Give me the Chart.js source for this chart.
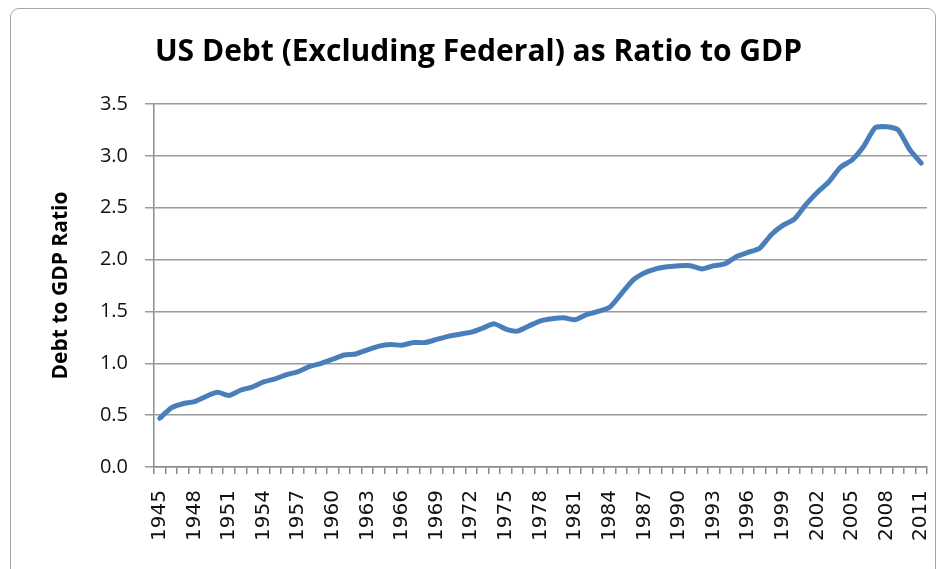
<!DOCTYPE html>
<html>
<head>
<meta charset="utf-8">
<script src="https://cdn.jsdelivr.net/npm/chart.js@4"></script>
<style>
  html, body { margin: 0; padding: 0; background: #fff; overflow: hidden; }
  #wrap { position: relative; width: 941px; height: 569px; }
  #frame {
    position: absolute; left: 10px; top: 8px; width: 924px; height: 620px;
    border: 1.5px solid #a6a6a6; border-radius: 9px; pointer-events: none;
  }
</style>
</head>
<body>
<div id="wrap">
  <canvas id="debt_chart" width="941" height="569"></canvas>
  <div id="frame"></div>
</div>
<script>
// years on the category axis
const years = [1945, 1946, 1947, 1948, 1949, 1950, 1951, 1952, 1953, 1954,
  1955, 1956, 1957, 1958, 1959, 1960, 1961, 1962, 1963, 1964,
  1965, 1966, 1967, 1968, 1969, 1970, 1971, 1972, 1973, 1974,
  1975, 1976, 1977, 1978, 1979, 1980, 1981, 1982, 1983, 1984,
  1985, 1986, 1987, 1988, 1989, 1990, 1991, 1992, 1993, 1994,
  1995, 1996, 1997, 1998, 1999, 2000, 2001, 2002, 2003, 2004,
  2005, 2006, 2007, 2008, 2009, 2010, 2011];

// non-federal debt divided by GDP
const debtRatio = [0.47, 0.57, 0.61, 0.63, 0.68, 0.72, 0.69, 0.74, 0.77, 0.82,
  0.85, 0.89, 0.92, 0.97, 1.00, 1.04, 1.08, 1.09, 1.13, 1.165,
  1.18, 1.175, 1.20, 1.20, 1.23, 1.26, 1.28, 1.30, 1.34, 1.38,
  1.33, 1.31, 1.36, 1.41, 1.43, 1.44, 1.42, 1.47, 1.50, 1.54,
  1.67, 1.80, 1.87, 1.91, 1.93, 1.94, 1.94, 1.91, 1.94, 1.96,
  2.03, 2.07, 2.11, 2.24, 2.33, 2.39, 2.53, 2.65, 2.75, 2.89,
  2.96, 3.09, 3.27, 3.28, 3.25, 3.06, 2.93];

// only every third year gets a label
const labelledYears = [1945, 1948, 1951, 1954, 1957, 1960, 1963, 1966, 1969, 1972,
  1975, 1978, 1981, 1984, 1987, 1990, 1993, 1996, 1999, 2002, 2005, 2008, 2011];

const ctx = document.getElementById('debt_chart');

new Chart(ctx, {
  type: 'line',
  data: {
    labels: years,
    datasets: [{
      label: 'Debt to GDP Ratio',
      data: debtRatio,
      borderColor: '#4a7ebb',
      backgroundColor: 'transparent',
      borderWidth: 5,
      borderCapStyle: 'round',
      borderJoinStyle: 'round',
      pointRadius: 0,
      tension: 0.2
    }]
  },
  options: {
    responsive: false,
    animation: false,
    layout: { padding: { top: 10, left: 30, right: 14, bottom: 0 } },
    plugins: {
      legend: { display: false },
      tooltip: { enabled: false },
      title: {
        display: true,
        text: 'US Debt (Excluding Federal) as Ratio to GDP',
        color: '#000',
        font: { family: 'Open Sans', size: 30, weight: 'bold' },
        padding: { top: 24, bottom: 34 }
      }
    },
    scales: {
      x: {
        offset: true,
        // fixed axis height, and no extra side room for the rotated labels
        afterFit: (scale) => {
          scale.height = 102;
          scale.paddingLeft = 0;
          scale.paddingRight = 0;
        },
        grid: {
          offset: true,
          drawOnChartArea: false,
          drawTicks: true,
          tickLength: 7,
          color: '#8c8c8c',
          lineWidth: 1.5
        },
        border: { color: '#8c8c8c', width: 1.5 },
        ticks: {
          autoSkip: false,
          minRotation: 90,
          maxRotation: 90,
          padding: 16,
          color: '#111',
          font: { family: 'DejaVu Sans', size: 20 },
          callback: function (value) {
            const year = this.getLabelForValue(value);
            return labelledYears.includes(year) ? String(year) : '';
          }
        }
      },
      y: {
        min: 0,
        max: 3.5,
        afterFit: (scale) => { scale.width = 124; },
        grid: {
          color: '#9a9a9a',
          lineWidth: 1.5,
          drawTicks: true,
          tickLength: 9
        },
        border: { color: '#8c8c8c', width: 1.5 },
        ticks: {
          stepSize: 0.5,
          padding: 17,
          color: '#111',
          font: { family: 'Open Sans', size: 20 },
          callback: (value) => value.toFixed(1)
        },
        title: {
          display: true,
          text: 'Debt to GDP Ratio',
          color: '#000',
          font: { family: 'Open Sans', size: 21, weight: 'bold' },
          padding: { top: 18 }
        }
      }
    }
  }
});
</script>
</body>
</html>
